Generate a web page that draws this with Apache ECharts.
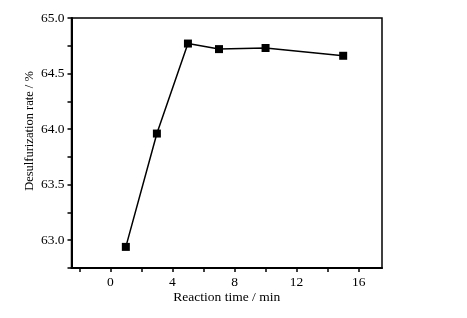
<!DOCTYPE html>
<html>
<head>
<meta charset="utf-8">
<script src="https://cdn.jsdelivr.net/npm/echarts@6/dist/echarts.min.js"></script>
<style>
  html, body { margin: 0; padding: 0; background: #fff; }
  #chart { width: 467px; height: 318px; }
</style>
</head>
<body>
<div id="chart"></div>
<script>
// reaction time (min) and desulfurization rate (%)
const times = [1, 3, 5, 7, 10, 15]
const rates = [62.94, 63.96, 64.77, 64.72, 64.73, 64.66]

const xLabels = [0, 4, 8, 12, 16]
const xTicks = [-2, 0, 2, 4, 6, 8, 10, 12, 14, 16]
const yLabels = [63.0, 63.5, 64.0, 64.5, 65.0]
const yTicks = [62.75, 63.0, 63.25, 63.5, 63.75, 64.0, 64.25, 64.5, 64.75, 65.0]

const font = 'Liberation Serif'
const chart = echarts.init(document.getElementById('chart'))

chart.setOption({
  animation: false,
  grid: {
    left: 71.5, top: 18, right: 85, bottom: 50,
    show: true, borderColor: '#000', borderWidth: 1.5
  },
  xAxis: {
    type: 'value',
    min: -2.5,
    max: 17.5,
    name: 'Reaction time / min',
    nameLocation: 'middle',
    nameGap: 22,
    nameMoveOverlap: false,
    nameTextStyle: { fontFamily: font, fontSize: 13.5, color: '#000' },
    splitLine: { show: false },
    axisLine: { onZero: false, lineStyle: { color: '#000', width: 2 } },
    axisTick: { customValues: xTicks, length: 4, lineStyle: { color: '#000', width: 1.5 } },
    axisLabel: { customValues: xLabels, fontFamily: font, fontSize: 13.5, color: '#000', margin: 7 }
  },
  yAxis: {
    type: 'value',
    min: 62.75,
    max: 65.0,
    name: 'Desulfurization rate / %',
    nameLocation: 'middle',
    nameGap: 35,
    nameMoveOverlap: false,
    nameTextStyle: { fontFamily: font, fontSize: 12.5, color: '#000', padding: [0, 0, 0, 24] },
    splitLine: { show: false },
    axisLine: { onZero: false, lineStyle: { color: '#000', width: 2 } },
    axisTick: { customValues: yTicks, length: 4, lineStyle: { color: '#000', width: 1.5 } },
    axisLabel: {
      customValues: yLabels,
      fontFamily: font, fontSize: 13.5, color: '#000', margin: 7,
      formatter: v => v.toFixed(1)
    }
  },
  series: [{
    type: 'line',
    data: times.map((t, i) => [t, rates[i]]),
    symbol: 'rect',
    symbolSize: 8,
    itemStyle: { color: '#000' },
    lineStyle: { color: '#000', width: 1.5 }
  }]
})
</script>
</body>
</html>
